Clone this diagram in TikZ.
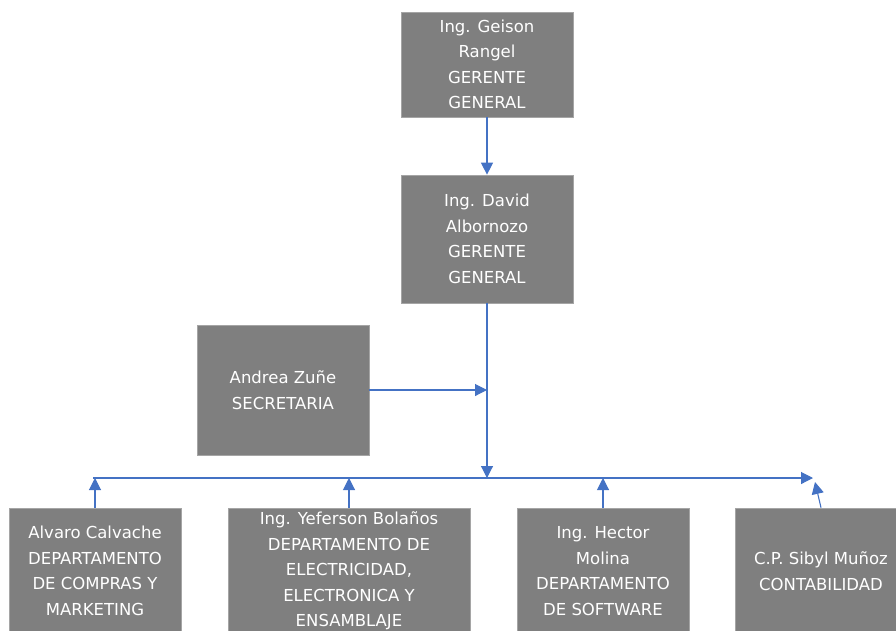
\documentclass[tikz,border=0pt]{standalone}
\usepackage{fontspec}
\setmainfont{DejaVu Sans}
\usetikzlibrary{arrows.meta}

\definecolor{cajagris}{HTML}{7F7F7F}
\definecolor{bordegris}{HTML}{A5A5A5}
\definecolor{lineaazul}{HTML}{4472C4}

\begin{document}
\begin{tikzpicture}[x=1pt,y=-1pt,
	caja/.style={rectangle, fill=cajagris, draw=bordegris, line width=0.7pt,
		text=white, align=center, inner sep=0pt, minimum width=172pt,
		font=\fontsize{16.5}{25.5}\selectfont},
	conector/.style={lineaazul, line width=1.1pt, -{Triangle[length=12pt,width=12pt]}}]

		\path[use as bounding box, clip] (0,0) rectangle (896,630);

		% direccion
		\node[caja, minimum height=105pt] (gerente) at (487,64.5) {Ing. Geison\\Rangel\\GERENTE\\GENERAL};
		\node[caja, minimum height=128pt] (subgerente) at (487,239) {Ing. David\\Albornozo\\GERENTE\\GENERAL};
		\node[caja, minimum height=130pt] (secretaria) at (283,390) {Andrea Zuñe\\SECRETARIA};

		% departamentos
		\node[caja, minimum height=126pt] (compras) at (95,571) {Alvaro Calvache\\DEPARTAMENTO\\DE COMPRAS Y\\MARKETING};
		\node[caja, minimum height=126pt, minimum width=242pt] (electricidad) at (349,571) {Ing. Yeferson Bolaños\\DEPARTAMENTO DE\\ELECTRICIDAD,\\ELECTRONICA Y\\ENSAMBLAJE};
		\node[caja, minimum height=126pt] (software) at (603,571) {Ing. Hector\\Molina\\DEPARTAMENTO\\DE SOFTWARE};
		\node[caja, minimum height=126pt] (contabilidad) at (821,571) {C.P. Sibyl Muñoz\\CONTABILIDAD};

		\coordinate (bus) at (487,478);
		\coordinate (busizq) at (93,478);
		\coordinate (busder) at (813,478);
		\coordinate (secre) at (487,390);

		\draw[conector] (gerente.south) -- (subgerente.north);
		\draw[conector] (subgerente.south) -- (bus);
		\draw[conector] (secretaria.east) -- (secre);
		\draw[conector] (busizq) -- (busder);

		\draw[conector] (compras.north) -- (compras.north |- bus);
		\draw[conector] (electricidad.north) -- (electricidad.north |- bus);
		\draw[conector] (software.north) -- (software.north |- bus);
		\draw[conector] (contabilidad.north) -- (815,482);
	\end{tikzpicture}
\end{document}
